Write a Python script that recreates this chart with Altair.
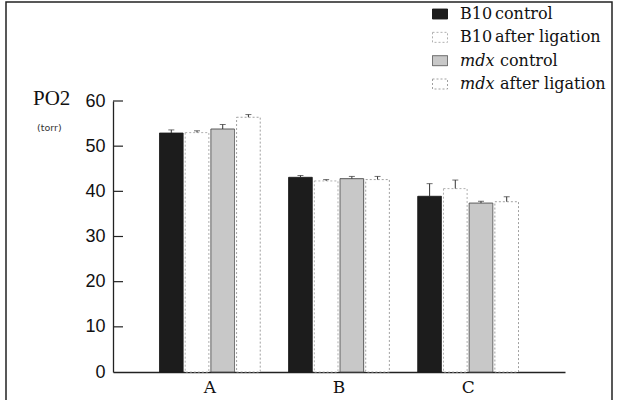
import altair as alt
import pandas as pd

groups = ["A", "B", "C"]
series = ["B10 control", "B10 after ligation", "mdx control", "mdx after ligation"]
prefixes = ["B10", "B10", "mdx", "mdx"]
suffixes = ["control", "after ligation", "control", "after ligation"]
values = {
    "A": [52.9, 53.0, 53.8, 56.4],
    "B": [43.1, 42.3, 42.8, 42.6],
    "C": [38.9, 40.6, 37.4, 37.7],
}
errors = {
    "A": [0.7, 0.4, 1.0, 0.6],
    "B": [0.4, 0.3, 0.5, 0.7],
    "C": [2.8, 1.9, 0.4, 1.1],
}
y_ticks = [10, 20, 30, 40, 50, 60]

fills = ["#1c1c1c", "#ffffff", "#c8c8c8", "#ffffff"]
strokes = ["#1c1c1c", "#b0b0b0", "#555555", "#a0a0a0"]
dashes = [[1, 0], [2, 2], [1, 0], [2, 2]]

rows = []
for g in groups:
    for i, s in enumerate(series):
        rows.append({"group": g, "series": s, "value": values[g][i],
                     "upper": values[g][i] + errors[g][i]})
df = pd.DataFrame(rows)
leg = pd.DataFrame({"series": series, "prefix": prefixes, "suffix": suffixes})
ticks = pd.DataFrame({"v": y_ticks})

yscale = alt.Scale(domain=[0, 60], nice=False)
xscale = alt.Scale(domain=groups, paddingInner=0.22, paddingOuter=0.36)
offscale = alt.Scale(domain=series, paddingInner=0.08)
fill_scale = alt.Scale(domain=series, range=fills)
stroke_scale = alt.Scale(domain=series, range=strokes)
dash_scale = alt.Scale(domain=series, range=dashes)

x_axis = alt.Axis(labelAngle=0, labelFont="DejaVu Serif", labelFontSize=17,
                  labelColor="#111", tickSize=0, labelPadding=7,
                  domainColor="#222", domainWidth=1.3)
x_enc = alt.X("group:N", scale=xscale, title=None, axis=x_axis)
off_enc = alt.XOffset("series:N", scale=offscale, sort=series)

bars = alt.Chart(df).mark_bar(strokeWidth=1).encode(
    x=x_enc,
    xOffset=off_enc,
    y=alt.Y("value:Q", scale=yscale, title=None,
            axis=alt.Axis(values=[0, 10, 20, 30, 40, 50, 60], labelFont="Liberation Sans",
                          labelFontSize=18, labelColor="#111", tickSize=0, labelPadding=8,
                          grid=False, domainColor="#222", domainWidth=1.3)),
    fill=alt.Fill("series:N", scale=fill_scale, legend=None),
    stroke=alt.Stroke("series:N", scale=stroke_scale, legend=None),
    strokeDash=alt.StrokeDash("series:N", scale=dash_scale, legend=None),
)

err = alt.Chart(df).mark_rule(color="#333", strokeWidth=1).encode(
    x=x_enc,
    xOffset=off_enc,
    y=alt.Y("value:Q", scale=yscale, axis=None),
    y2="upper:Q",
)
caps = alt.Chart(df).mark_tick(color="#333", orient="horizontal", size=6, thickness=1).encode(
    x=x_enc,
    xOffset=off_enc,
    y=alt.Y("upper:Q", scale=yscale, axis=None),
)

tick_rules = alt.Chart(ticks).mark_rule(color="#222", strokeWidth=1.2).encode(
    y=alt.Y("v:Q", scale=yscale, axis=None),
    x=alt.value(0), x2=alt.value(10),
)

labels = pd.DataFrame({"t": ["PO2", "(torr)"], "k": ["a", "b"]})
po2 = alt.Chart(labels).transform_filter("datum.k == 'a'").mark_text(
    align="left", baseline="middle", font="Liberation Serif", fontSize=21, color="#111"
).encode(text="t:N", x=alt.value(-80), y=alt.value(-2))
torr = alt.Chart(labels).transform_filter("datum.k == 'b'").mark_text(
    align="left", baseline="middle", font="DejaVu Sans", fontSize=9.5, color="#333"
).encode(text="t:N", x=alt.value(-76), y=alt.value(27))

ly = alt.Y("series:N", sort=series, axis=None,
           scale=alt.Scale(type="point", domain=series, range=[-87, -17], padding=0))
sw = alt.Chart(leg).mark_point(filled=True, shape="M-1.5,-1H1.5V1H-1.5Z", size=100,
                                strokeWidth=1, opacity=1).encode(
    x=alt.value(327), y=ly,
    fill=alt.Fill("series:N", scale=fill_scale, legend=None),
    stroke=alt.Stroke("series:N", scale=stroke_scale, legend=None),
    strokeDash=alt.StrokeDash("series:N", scale=dash_scale, legend=None),
)
text_style = dict(align="left", baseline="middle", font="DejaVu Serif", fontSize=16,
                  color="#111")
t_b10 = alt.Chart(leg).transform_filter("datum.prefix == 'B10'").mark_text(
    **text_style).encode(text="prefix:N", x=alt.value(347), y=ly)
t_mdx = alt.Chart(leg).transform_filter("datum.prefix == 'mdx'").mark_text(
    fontStyle="italic", **text_style).encode(text="prefix:N", x=alt.value(347), y=ly)
s_b10 = alt.Chart(leg).transform_filter("datum.prefix == 'B10'").mark_text(
    **text_style).encode(text="suffix:N", x=alt.value(382), y=ly)
s_mdx = alt.Chart(leg).transform_filter("datum.prefix == 'mdx'").mark_text(
    **text_style).encode(text="suffix:N", x=alt.value(387), y=ly)

frame = alt.Chart(labels).transform_filter("datum.k == 'a'").mark_rect(
    fill=None, stroke="#222", strokeWidth=1.5
).encode(x=alt.value(-107), x2=alt.value(499), y=alt.value(-99), y2=alt.value(320))

chart = alt.layer(
    frame, bars, err, caps, tick_rules, po2, torr, sw, t_b10, t_mdx, s_b10, s_mdx
).resolve_scale(y="independent").properties(
    width=452, height=271, autosize="none", background="white",
    padding={"left": 113, "top": 101, "right": 54, "bottom": 28},
).configure_view(stroke=None)

chart.save("out.html", embed_options={"renderer": "svg", "actions": False})
